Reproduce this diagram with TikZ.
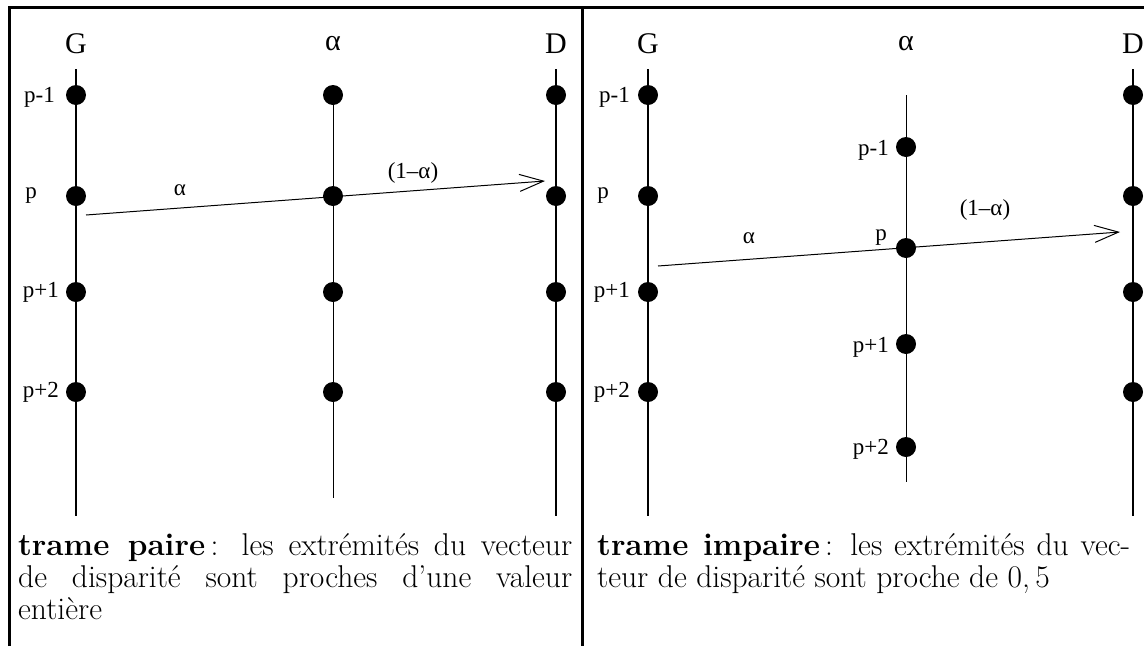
\documentclass[tikz,border=0pt]{standalone}
\usepackage{fontspec}
\newfontfamily\figfont{Liberation Serif}
\usetikzlibrary{arrows.meta}
\begin{document}
\begin{tikzpicture}[x=1pt,y=-1pt,
  dot/.style={circle,fill=black,inner sep=0pt,minimum size=20pt},
  frame/.style={line width=3pt},
  axis/.style={line width=1.6pt},
  thinaxis/.style={line width=1pt},
  vec/.style={line width=1pt,-{Straight Barb[length=24pt,width=17pt,line width=1pt]}},
  head/.style={font=\figfont\fontsize{30}{34}\selectfont,inner sep=0pt},
  lab/.style={font=\figfont\fontsize{23}{26}\selectfont,inner sep=0pt},
  captext/.style={inner sep=0pt,anchor=north west,align=justify,font=\fontsize{31.5}{32}\selectfont}]
\useasboundingbox (0,0) rectangle (1144,646);
% frame
\draw[frame] (9,646) -- (9,7.5) -- (1144,7.5);
\draw[frame] (582,7.5) -- (582,646);
% ===== left panel
\node[head] (lG) at (76,44) {G};
\node[head] (lA) at (333,44) {α};
\node[head] (lD) at (556,44) {D};
\coordinate (lGt) at (76,69); \coordinate (lGb) at (76,516);
\coordinate (lDt) at (556,69); \coordinate (lDb) at (556,516);
\coordinate (lAb) at (333,498);
\draw[axis] (lGt) -- (lGb);
\draw[axis] (lDt) -- (lDb);
\foreach \y/\n in {95/1,196/2,292/3,392/4}{
  \node[dot] (lg\n) at (76,\y) {};
  \node[dot] (la\n) at (333,\y) {};
  \node[dot] (ld\n) at (556,\y) {};
}
\draw[thinaxis] (la1.center) -- (lAb);
\node[lab,anchor=east] (lp1) at (55,97) {p-1};
\node[lab] (lp2) at (31,196) {p};
\node[lab,anchor=east] (lp3) at (59,292) {p+1};
\node[lab,anchor=east] (lp4) at (59,392) {p+2};
\coordinate (lv0) at (86,215);
\coordinate (lv1) at (545,181);
\draw[vec] (lv0) -- (lv1);
\node[lab] (lal) at (180,190) {α};
\node[lab] (lal2) at (413,173) {(1–α)};
\node[captext,text width=554pt] (lcap) at (18,533) {\textbf{trame paire}\,: les extrémités du vecteur\linebreak de disparité sont proches d'une valeur\linebreak entière};
% ===== right panel
\node[head] (rG) at (648,44) {G};
\node[head] (rA) at (906,44) {α};
\node[head] (rD) at (1133,44) {D};
\coordinate (rGt) at (648,69); \coordinate (rGb) at (648,516);
\coordinate (rDt) at (1133,69); \coordinate (rDb) at (1133,516);
\coordinate (rAt) at (906,95); \coordinate (rAb) at (906,482);
\draw[axis] (rGt) -- (rGb);
\draw[axis] (rDt) -- (rDb);
\draw[thinaxis] (rAt) -- (rAb);
\foreach \y/\n in {95/1,196/2,292/3,392/4}{
  \node[dot] (rg\n) at (648,\y) {};
  \node[dot] (rd\n) at (1133,\y) {};
}
\foreach \y/\n in {147/1,248/2,344/3,447/4}{
  \node[dot] (ra\n) at (906,\y) {};
}
\node[lab,anchor=east] (rp1) at (630,97) {p-1};
\node[lab] (rp2) at (603,196) {p};
\node[lab,anchor=east] (rp3) at (630,292) {p+1};
\node[lab,anchor=east] (rp4) at (630,392) {p+2};
\node[lab,anchor=east] (rq1) at (889,150) {p-1};
\node[lab] (rq2) at (881,238) {p};
\node[lab,anchor=east] (rq3) at (889,347) {p+1};
\node[lab,anchor=east] (rq4) at (889,449) {p+2};
\coordinate (rv0) at (658,266);
\coordinate (rv1) at (1120,232);
\draw[vec] (rv0) -- (rv1);
\node[lab] (ral) at (749,238) {α};
\node[lab] (ral2) at (985,210) {(1–α)};
\node[captext,text width=533pt] (rcap) at (597,533) {\textbf{trame impaire}\,: les extrémités du vec-\linebreak teur de disparité sont proche de 0,\kern0.17em5};
\end{tikzpicture}
\end{document}
